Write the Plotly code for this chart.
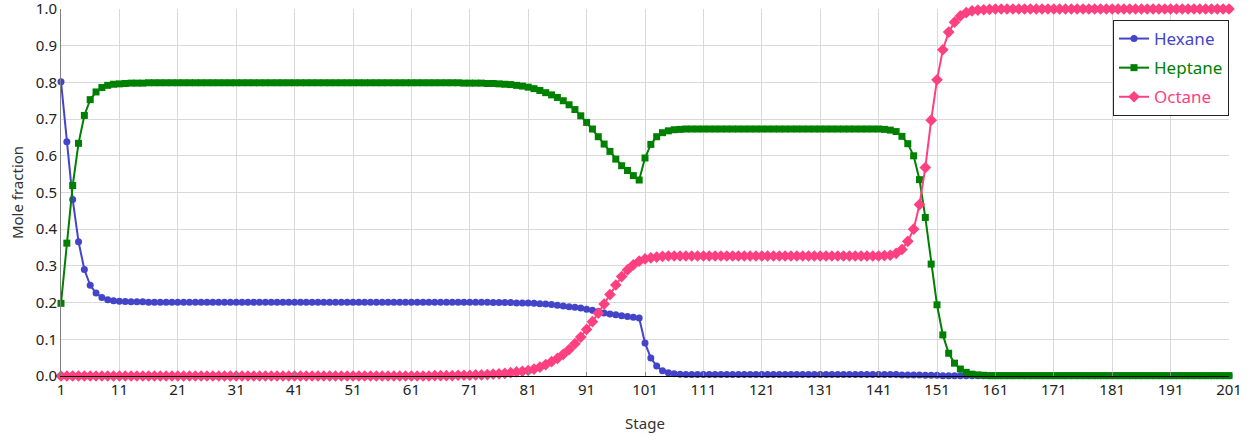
import plotly.graph_objects as go

stages = list(range(1, 202))

hexane = [
    0.802, 0.638, 0.481, 0.366, 0.290, 0.247, 0.226, 0.214, 0.208, 0.205,
    0.204, 0.203, 0.202, 0.202, 0.202, 0.201, 0.201, 0.201, 0.201, 0.201,
    0.201, 0.201, 0.201, 0.201, 0.201, 0.201, 0.201, 0.201, 0.201, 0.201,
    0.201, 0.201, 0.201, 0.201, 0.201, 0.201, 0.201, 0.201, 0.201, 0.201,
    0.201, 0.201, 0.201, 0.201, 0.201, 0.201, 0.201, 0.201, 0.201, 0.201,
    0.201, 0.201, 0.201, 0.201, 0.201, 0.201, 0.201, 0.201, 0.201, 0.201,
    0.201, 0.201, 0.201, 0.201, 0.201, 0.201, 0.201, 0.201, 0.201, 0.201,
    0.201, 0.201, 0.201, 0.201, 0.200, 0.200, 0.200, 0.200, 0.199, 0.199,
    0.199, 0.198, 0.197, 0.196, 0.195, 0.193, 0.191, 0.189, 0.187, 0.185,
    0.182, 0.179, 0.176, 0.172, 0.169, 0.167, 0.164, 0.162, 0.160, 0.158,
    0.090, 0.049, 0.027, 0.014, 0.009, 0.006, 0.005, 0.004, 0.004, 0.004,
    0.004, 0.004, 0.004, 0.004, 0.004, 0.004, 0.004, 0.004, 0.004, 0.004,
    0.004, 0.004, 0.004, 0.004, 0.004, 0.004, 0.004, 0.004, 0.004, 0.004,
    0.004, 0.004, 0.004, 0.004, 0.004, 0.004, 0.004, 0.004, 0.004, 0.004,
    0.004, 0.004, 0.004, 0.004, 0.003, 0.003, 0.003, 0.003, 0.002, 0.002,
    0.002, 0.001, 0.001, 0.001, 0.001, 0.001, 0.001, 0.001, 0.001, 0.001,
    0.001, 0.001, 0.001, 0.001, 0.001, 0.001, 0.001, 0.001, 0.001, 0.001,
    0.001, 0.001, 0.001, 0.001, 0.001, 0.001, 0.001, 0.001, 0.001, 0.001,
    0.001, 0.001, 0.001, 0.001, 0.001, 0.001, 0.001, 0.001, 0.001, 0.001,
    0.001, 0.001, 0.001, 0.001, 0.001, 0.001, 0.001, 0.001, 0.001, 0.001,
    0.001,
]

heptane = [
    0.198, 0.362, 0.519, 0.634, 0.710, 0.753, 0.774, 0.786, 0.792, 0.795,
    0.796, 0.797, 0.798, 0.798, 0.798, 0.799, 0.799, 0.799, 0.799, 0.799,
    0.799, 0.799, 0.799, 0.799, 0.799, 0.799, 0.799, 0.799, 0.799, 0.799,
    0.799, 0.799, 0.799, 0.799, 0.799, 0.799, 0.799, 0.799, 0.799, 0.799,
    0.799, 0.799, 0.799, 0.799, 0.799, 0.799, 0.799, 0.799, 0.799, 0.799,
    0.799, 0.799, 0.799, 0.799, 0.799, 0.799, 0.799, 0.799, 0.799, 0.799,
    0.799, 0.799, 0.799, 0.799, 0.799, 0.799, 0.799, 0.799, 0.799, 0.798,
    0.798, 0.798, 0.798, 0.797, 0.797, 0.796, 0.795, 0.794, 0.792, 0.790,
    0.787, 0.783, 0.778, 0.772, 0.766, 0.759, 0.750, 0.739, 0.726, 0.709,
    0.691, 0.673, 0.652, 0.632, 0.612, 0.591, 0.573, 0.560, 0.546, 0.534,
    0.594, 0.631, 0.652, 0.663, 0.668, 0.671, 0.672, 0.673, 0.673, 0.673,
    0.673, 0.673, 0.673, 0.673, 0.673, 0.673, 0.673, 0.673, 0.673, 0.673,
    0.673, 0.673, 0.673, 0.673, 0.673, 0.673, 0.673, 0.673, 0.673, 0.673,
    0.673, 0.673, 0.673, 0.673, 0.673, 0.673, 0.673, 0.673, 0.673, 0.673,
    0.673, 0.672, 0.670, 0.666, 0.653, 0.633, 0.600, 0.535, 0.432, 0.305,
    0.194, 0.112, 0.062, 0.035, 0.019, 0.010, 0.005, 0.003, 0.002, 0.001,
    0.001, 0.001, 0.001, 0.001, 0.001, 0.001, 0.001, 0.001, 0.001, 0.001,
    0.001, 0.001, 0.001, 0.001, 0.001, 0.001, 0.001, 0.001, 0.001, 0.001,
    0.001, 0.001, 0.001, 0.001, 0.001, 0.001, 0.001, 0.001, 0.001, 0.001,
    0.001, 0.001, 0.001, 0.001, 0.001, 0.001, 0.001, 0.001, 0.001, 0.001,
    0.001,
]

octane = [
    0.000, 0.000, 0.000, 0.000, 0.000, 0.000, 0.000, 0.000, 0.000, 0.000,
    0.000, 0.000, 0.000, 0.000, 0.000, 0.000, 0.000, 0.000, 0.000, 0.000,
    0.000, 0.000, 0.000, 0.000, 0.000, 0.000, 0.000, 0.000, 0.000, 0.000,
    0.000, 0.000, 0.000, 0.000, 0.000, 0.000, 0.000, 0.000, 0.000, 0.000,
    0.000, 0.000, 0.000, 0.000, 0.000, 0.000, 0.000, 0.000, 0.000, 0.000,
    0.000, 0.000, 0.000, 0.000, 0.000, 0.000, 0.000, 0.000, 0.000, 0.000,
    0.000, 0.000, 0.000, 0.000, 0.001, 0.001, 0.001, 0.001, 0.002, 0.002,
    0.002, 0.003, 0.003, 0.004, 0.005, 0.006, 0.007, 0.009, 0.011, 0.013,
    0.015, 0.019, 0.024, 0.031, 0.039, 0.048, 0.059, 0.072, 0.088, 0.106,
    0.127, 0.148, 0.171, 0.196, 0.222, 0.248, 0.271, 0.289, 0.303, 0.313,
    0.319, 0.322, 0.324, 0.326, 0.327, 0.327, 0.327, 0.327, 0.327, 0.327,
    0.327, 0.327, 0.327, 0.327, 0.327, 0.327, 0.327, 0.327, 0.327, 0.327,
    0.327, 0.327, 0.327, 0.327, 0.327, 0.327, 0.327, 0.327, 0.327, 0.327,
    0.327, 0.327, 0.327, 0.327, 0.327, 0.327, 0.327, 0.327, 0.327, 0.327,
    0.327, 0.328, 0.329, 0.334, 0.345, 0.367, 0.400, 0.467, 0.568, 0.697,
    0.807, 0.889, 0.937, 0.964, 0.981, 0.990, 0.995, 0.997, 0.998, 0.999,
    1.000, 1.000, 1.000, 1.000, 1.000, 1.000, 1.000, 1.000, 1.000, 1.000,
    1.000, 1.000, 1.000, 1.000, 1.000, 1.000, 1.000, 1.000, 1.000, 1.000,
    1.000, 1.000, 1.000, 1.000, 1.000, 1.000, 1.000, 1.000, 1.000, 1.000,
    1.000, 1.000, 1.000, 1.000, 1.000, 1.000, 1.000, 1.000, 1.000, 1.000,
    1.000,
]

x_ticks = [1, 11, 21, 31, 41, 51, 61, 71, 81, 91, 101,
           111, 121, 131, 141, 151, 161, 171, 181, 191, 201]
y_ticks = [0.0, 0.1, 0.2, 0.3, 0.4, 0.5, 0.6, 0.7, 0.8, 0.9, 1.0]
y_tick_labels = ["0.0", "0.1", "0.2", "0.3", "0.4", "0.5",
                 "0.6", "0.7", "0.8", "0.9", "1.0"]

series_names = ["Hexane", "Heptane", "Octane"]
series_colors = ["#4444c8", "#008000", "#ff4080"]
series_symbols = ["circle", "square", "diamond"]
series_sizes = [7, 7, 9]

FONT = "Noto Sans"

fig = go.Figure()
for name, vals, col, sym, sz in zip(series_names, [hexane, heptane, octane],
                                    series_colors, series_symbols, series_sizes):
    fig.add_trace(go.Scatter(
        x=stages, y=vals,
        name=f"<span style='color:{col}'>{name}</span>",
        mode="lines+markers",
        line=dict(color=col, width=2),
        marker=dict(symbol=sym, size=sz, color=col, line=dict(width=0)),
        cliponaxis=False, legendgroup=name,
    ))

fig.update_layout(
    width=1253, height=444,
    margin=dict(l=61, r=24, t=9, b=67.5, autoexpand=False),
    paper_bgcolor="white", plot_bgcolor="white",
    font=dict(family=FONT, size=15, color="#222222"),
    showlegend=True,
    legend=dict(
        x=1.0, xanchor="right", y=0.97, yanchor="top",
        bgcolor="white", bordercolor="#222222", borderwidth=1,
        font=dict(family=FONT, size=17),
        tracegroupgap=4, itemwidth=30,
    ),
    xaxis=dict(
        range=[1, 201], tickmode="array", tickvals=x_ticks,
        showgrid=True, gridcolor="#d9d9d9", gridwidth=1,
        showline=True, linecolor="#000000", linewidth=1,
        ticks="inside", ticklen=4, tickcolor="#888888",
        zeroline=False, automargin=False, ticklabeloverflow="allow",
        title=dict(text="Stage", font=dict(family=FONT, size=15, color="#333333"), standoff=20),
        tickfont=dict(family=FONT, size=15, color="#222222"),
    ),
    yaxis=dict(
        range=[0, 1], tickmode="array", tickvals=y_ticks, ticktext=y_tick_labels,
        showgrid=True, gridcolor="#d9d9d9", gridwidth=1,
        showline=True, linecolor="#808080", linewidth=1,
        ticks="", zeroline=False, automargin=False, ticklabeloverflow="allow",
        title=dict(text="Mole fraction", font=dict(family=FONT, size=15, color="#333333"), standoff=8),
        tickfont=dict(family=FONT, size=15, color="#222222"),
    ),
)

fig.write_html(
    "out.html",
    config={"displayModeBar": False},
    post_script="document.body.style.margin='0';document.body.style.overflow='hidden';",
)
